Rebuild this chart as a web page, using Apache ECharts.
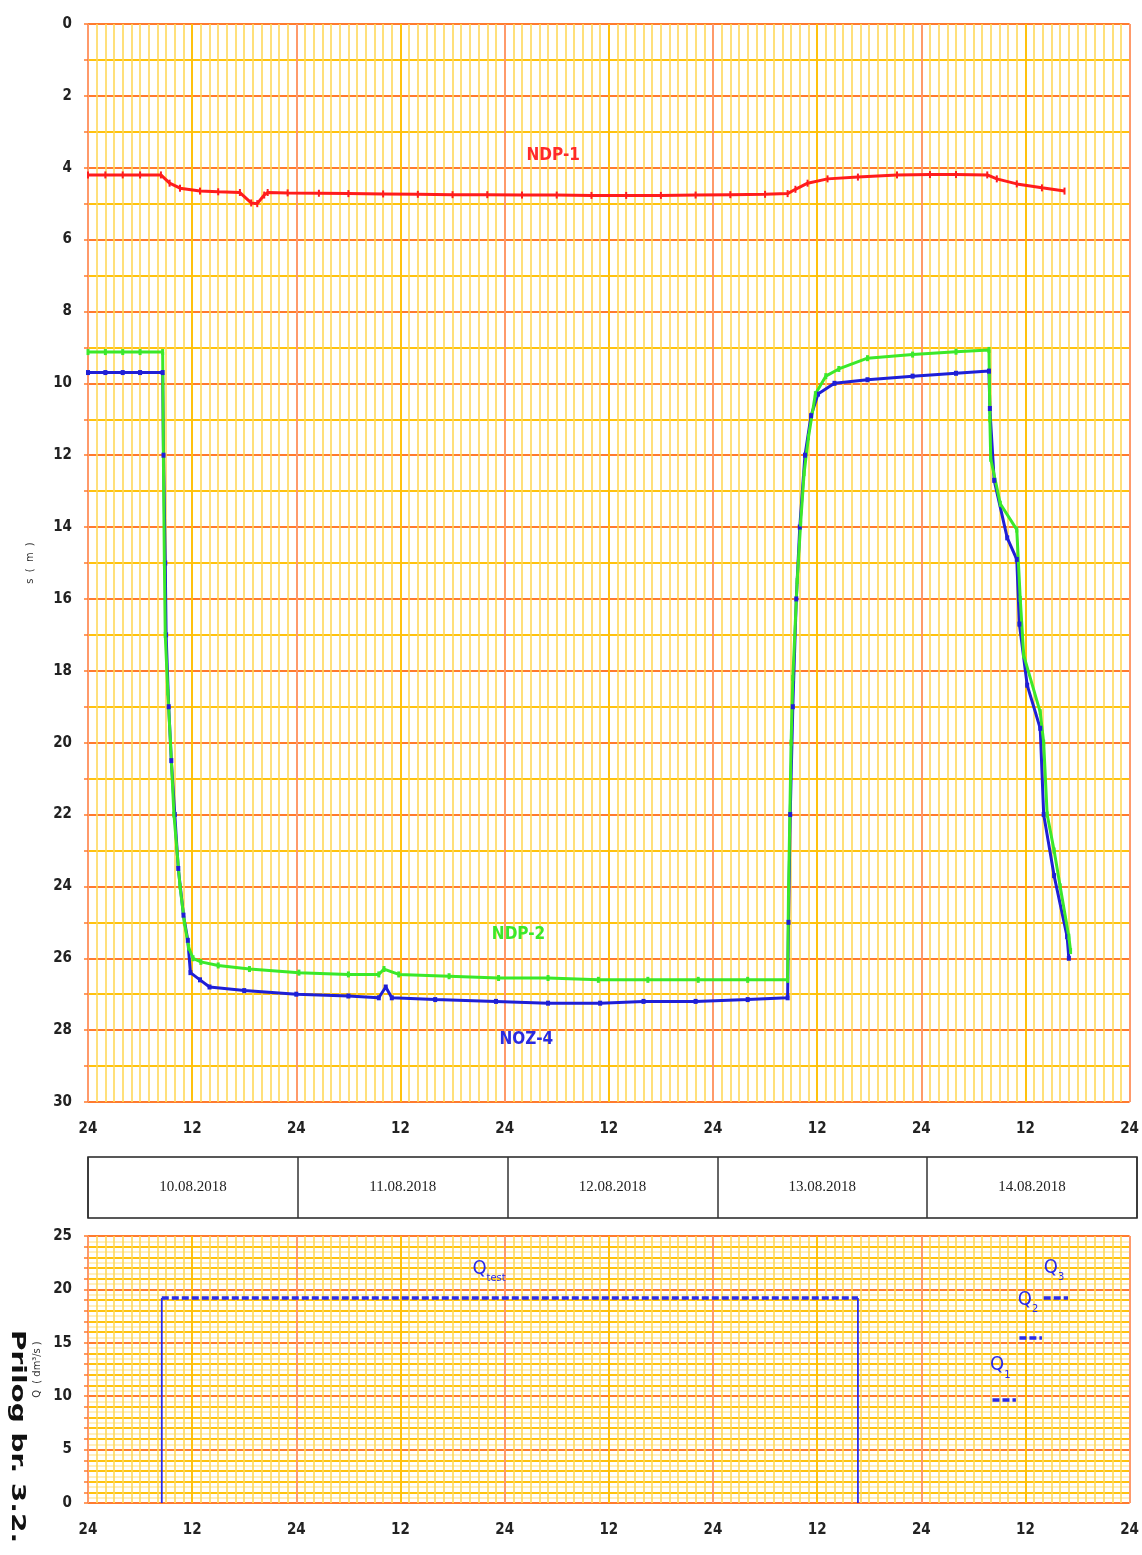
<!DOCTYPE html>
<html>
<head>
<meta charset="utf-8">
<title>Prilog br. 3.2</title>
<script src="https://cdn.jsdelivr.net/npm/echarts@6/dist/echarts.min.js"></script>
<style>
  html, body { margin: 0; padding: 0; background: #ffffff; }
  #chart { width: 1142px; height: 1555px; }
</style>
</head>
<body>
<div id="chart"></div>
<script>
// Time runs in hours from 10.08.2018 00:00 (0) to 15.08.2018 00:00 (120).
const hourTickLabels = ['24', '12', '24', '12', '24', '12', '24', '12', '24', '12', '24'];
const dayLabels = ['10.08.2018', '11.08.2018', '12.08.2018', '13.08.2018', '14.08.2018'];

// Drawdown s (m) per piezometer: [hour, depth]
const ndp1 = [
  [0, 4.2], [2, 4.2], [4, 4.2], [6, 4.2], [8.4, 4.2], [9.4, 4.43], [10.6, 4.57], [12.9, 4.65],
  [15, 4.67], [17.5, 4.69], [18.8, 4.98], [19.5, 5.0], [20.3, 4.76], [20.7, 4.69], [23, 4.7],
  [26.6, 4.71], [30, 4.72], [34, 4.73], [38, 4.74], [42, 4.75], [46, 4.75], [50, 4.76], [54, 4.76],
  [58, 4.77], [62, 4.77], [66, 4.77], [70, 4.76], [74, 4.75], [78, 4.74], [80.6, 4.72], [81.5, 4.6],
  [82.9, 4.43], [85.2, 4.31], [88.7, 4.26], [93.2, 4.2], [97, 4.19], [100, 4.19], [103.6, 4.2],
  [104.7, 4.31], [107, 4.45], [109.9, 4.56], [112.5, 4.65]
];
const ndp2 = [
  [0, 9.13], [2, 9.13], [4, 9.13], [6, 9.13], [8.6, 9.13], [8.7, 12.5], [8.8, 15], [8.9, 17],
  [9.2, 18.6], [9.5, 20.0], [9.9, 22.0], [10.6, 24.0], [11.1, 25.0], [11.6, 25.7], [12.1, 26.0],
  [13, 26.1], [15, 26.2], [18.6, 26.3], [24.3, 26.4], [30, 26.45], [33.5, 26.45], [34.1, 26.3],
  [35.8, 26.45], [41.6, 26.5], [47.3, 26.55], [53, 26.55], [58.8, 26.6], [64.5, 26.6], [70.3, 26.6],
  [76, 26.6], [80.6, 26.6], [80.7, 24.2], [81.0, 20], [81.2, 18.2], [81.7, 15.5], [82.1, 13.9],
  [82.5, 12.5], [83.0, 11.5], [83.8, 10.3], [85.0, 9.8], [86.5, 9.6], [89.8, 9.3], [95, 9.2],
  [100, 9.12], [103.8, 9.07], [103.9, 11], [104.0, 12.1], [105.1, 13.35], [107.0, 14.07],
  [107.4, 16.0], [107.8, 17.57], [109.7, 19.15], [110.1, 20.0], [110.5, 22.0], [111.3, 23.0],
  [112.0, 24.0], [113.0, 25.4], [113.2, 25.8]
];
const noz4 = [
  [0, 9.7], [2, 9.7], [4, 9.7], [6, 9.7], [8.6, 9.7], [8.7, 12], [8.9, 15], [9.0, 17], [9.3, 19],
  [9.6, 20.5], [10.0, 22.0], [10.4, 23.5], [11.0, 24.8], [11.5, 25.5], [11.8, 26.4], [12.9, 26.6],
  [14, 26.8], [18, 26.9], [24, 27.0], [30, 27.05], [33.5, 27.1], [34.3, 26.8], [35, 27.1], [40, 27.15],
  [47, 27.2], [53, 27.25], [59, 27.25], [64, 27.2], [70, 27.2], [76, 27.15], [80.6, 27.1],
  [80.7, 25], [80.9, 22], [81.2, 19], [81.6, 16], [82.0, 14], [82.6, 12], [83.3, 10.9], [84.1, 10.3],
  [86.0, 10.0], [89.8, 9.9], [95, 9.8], [100, 9.72], [103.8, 9.66], [103.9, 10.7], [104.4, 12.7],
  [105.9, 14.3], [107.0, 14.9], [107.3, 16.7], [108.2, 18.4], [109.7, 19.6], [110.1, 22.0],
  [111.3, 23.7], [112.8, 25.4], [113.0, 26.0]
];

// Pumping rate Q (dm3/s): test pumping span and the three step rates [start hour, end hour, rate]
const qTestSpan = [8.5, 88.7];
const qTestRate = 19.2;
const q1 = [104.2, 106.9, 9.64];
const q2 = [107.3, 109.9, 15.45];
const q3 = [110.1, 112.9, 19.2];

const NARROW = "'Liberation Sans Narrow', 'DejaVu Sans Condensed', 'Liberation Sans', sans-serif";
const ORANGE = '#ff7b2e';
const SALMON = '#ff9a6a';
const YELLOW = '#ffc20e';
const LIGHT = '#ffd95a';
const PALE = '#ffeaa8';
const QBLUE = '#2a2ae8';

function timeAxis(gridIndex, minorCount, minorColor) {
  return {
    gridIndex: gridIndex, type: 'value', min: 0, max: 120, interval: 12,
    axisLine: { show: false }, axisTick: { show: false },
    axisLabel: {
      formatter: v => hourTickLabels[Math.round(v / 12)],
      margin: 20, color: '#222', fontFamily: NARROW, fontSize: 15, fontWeight: 'bold'
    },
    splitLine: { show: true, lineStyle: { color: [SALMON, YELLOW], width: 2 } },
    minorTick: { show: false, splitNumber: minorCount },
    minorSplitLine: { show: true, lineStyle: { color: minorColor, width: 1.6 } }
  };
}

function labelPoint(coord, text, color, size) {
  return {
    symbol: 'rect', symbolSize: 1, silent: true,
    itemStyle: { color: 'rgba(0,0,0,0)' },
    label: {
      show: true, position: 'inside', formatter: text, color: color,
      fontFamily: NARROW, fontSize: size, fontWeight: 'bold'
    },
    data: [{ coord: coord }]
  };
}

function qLabel(coord, sub) {
  return {
    coord: coord,
    label: {
      show: true, position: 'inside',
      formatter: '{q|Q}{s|' + sub + '}',
      rich: {
        q: { color: QBLUE, fontFamily: NARROW, fontSize: 20, lineHeight: 20, verticalAlign: 'top' },
        s: { color: QBLUE, fontFamily: NARROW, fontSize: 11, lineHeight: 11, verticalAlign: 'top', padding: [14, 0, 0, 0] }
      }
    }
  };
}

const chart = echarts.init(document.getElementById('chart'), null, { renderer: 'canvas' });

chart.setOption({
  backgroundColor: '#ffffff',
  animation: false,
  grid: [
    { left: 88, top: 24, width: 1045, height: 1078 },
    { left: 88, top: 1157, width: 1049, height: 61, show: true, borderColor: '#222', borderWidth: 1.5 },
    { left: 88, top: 1236, width: 1045, height: 267 }
  ],
  xAxis: [
    timeAxis(0, 12, LIGHT),
    {
      gridIndex: 1, type: 'category', data: dayLabels, boundaryGap: true,
      axisLine: { show: false }, axisTick: { show: false },
      axisLabel: { interval: 0, margin: -38, color: '#222', fontFamily: "'Liberation Serif', serif", fontSize: 15 },
      splitLine: { show: true, interval: 0, lineStyle: { color: '#333', width: 1.5 } }
    },
    timeAxis(2, 12, LIGHT)
  ],
  yAxis: [
    {
      gridIndex: 0, type: 'value', inverse: true, min: 0, max: 30, interval: 1,
      name: 's  (  m  )', nameLocation: 'middle', nameGap: 52, nameRotate: 90,
      nameTextStyle: { color: '#333', fontFamily: NARROW, fontSize: 11 },
      axisLine: { show: false },
      axisTick: { show: true, length: 4, lineStyle: { color: ORANGE, width: 1.5 } },
      axisLabel: {
        formatter: v => (v % 2 === 0 ? String(v) : ''),
        margin: 16, color: '#222', fontFamily: NARROW, fontSize: 15, fontWeight: 'bold'
      },
      splitLine: { show: true, lineStyle: { color: [ORANGE, YELLOW], width: 2 } }
    },
    { gridIndex: 1, type: 'value', show: false },
    {
      gridIndex: 2, type: 'value', min: 0, max: 25, interval: 1,
      name: 'Q  ( dm³/s )', nameLocation: 'middle', nameGap: 42, nameRotate: 90,
      nameTextStyle: { color: '#333', fontFamily: NARROW, fontSize: 11 },
      axisLine: { show: false },
      axisTick: { show: true, length: 4, lineStyle: { color: ORANGE, width: 1.5 } },
      axisLabel: {
        formatter: v => (v % 5 === 0 ? String(v) : ''),
        margin: 16, color: '#222', fontFamily: NARROW, fontSize: 15, fontWeight: 'bold'
      },
      splitLine: { show: true, lineStyle: { color: [ORANGE, YELLOW, YELLOW, YELLOW, YELLOW], width: 2 } },
      minorTick: { show: false, splitNumber: 2 },
      minorSplitLine: { show: true, lineStyle: { color: PALE, width: 1.6 } }
    }
  ],
  series: [
    {
      name: 'NOZ-4', type: 'line', xAxisIndex: 0, yAxisIndex: 0, data: noz4,
      color: '#1f1fd6', lineStyle: { width: 3 },
      symbol: 'rect', symbolSize: [4, 5], showSymbol: true,
      markPoint: labelPoint([50.5, 28.25], 'NOZ-4', '#2a2ae0', 17)
    },
    {
      name: 'NDP-2', type: 'line', xAxisIndex: 0, yAxisIndex: 0, data: ndp2,
      color: '#3be82a', lineStyle: { width: 3 },
      symbol: 'rect', symbolSize: [3, 6], showSymbol: true,
      markPoint: labelPoint([49.6, 25.35], 'NDP-2', '#3be82a', 17)
    },
    {
      name: 'NDP-1', type: 'line', xAxisIndex: 0, yAxisIndex: 0, data: ndp1,
      color: '#ff1c1c', lineStyle: { width: 3 },
      symbol: 'rect', symbolSize: [2, 7], showSymbol: true,
      markPoint: labelPoint([53.6, 3.65], 'NDP-1', '#ff2a2a', 17)
    },
    {
      name: 'Qtest-start', type: 'line', xAxisIndex: 2, yAxisIndex: 2,
      data: [[qTestSpan[0], 0], [qTestSpan[0], qTestRate]],
      color: QBLUE, lineStyle: { width: 1.8 }, symbol: 'none'
    },
    {
      name: 'Qtest-end', type: 'line', xAxisIndex: 2, yAxisIndex: 2,
      data: [[qTestSpan[1], qTestRate], [qTestSpan[1], 0]],
      color: QBLUE, lineStyle: { width: 1.8 }, symbol: 'none'
    },
    {
      name: 'Qtest', type: 'line', xAxisIndex: 2, yAxisIndex: 2,
      data: [[qTestSpan[0], qTestRate], [qTestSpan[1], qTestRate]],
      color: QBLUE, lineStyle: { width: 3.5, type: [7, 3] }, symbol: 'none',
      markPoint: {
        symbol: 'rect', symbolSize: 1, silent: true, itemStyle: { color: 'rgba(0,0,0,0)' },
        data: [qLabel([46.2, 21.9], 'test')]
      }
    },
    {
      name: 'Q-steps', type: 'line', xAxisIndex: 2, yAxisIndex: 2,
      data: [[q1[0], q1[2]], [q1[1], q1[2]], '-', [q2[0], q2[2]], [q2[1], q2[2]], '-', [q3[0], q3[2]], [q3[1], q3[2]]],
      connectNulls: false,
      color: QBLUE, lineStyle: { width: 3.5, type: [7, 3] }, symbol: 'none',
      markPoint: {
        symbol: 'rect', symbolSize: 1, silent: true, itemStyle: { color: 'rgba(0,0,0,0)' },
        data: [
          qLabel([105.1, 12.9], '1'),
          qLabel([108.3, 19.0], '2'),
          qLabel([111.3, 22.0], '3')
        ]
      }
    }
  ],
  graphic: [
    {
      type: 'text', x: 17, y: 1330, rotation: -Math.PI / 2, scaleX: 1.4,
      style: {
        text: 'Prilog br. 3.2.', fill: '#111',
        font: "bold 20px 'DejaVu Sans', sans-serif",
        textAlign: 'left', textVerticalAlign: 'middle'
      }
    }
  ]
});
</script>
</body>
</html>
